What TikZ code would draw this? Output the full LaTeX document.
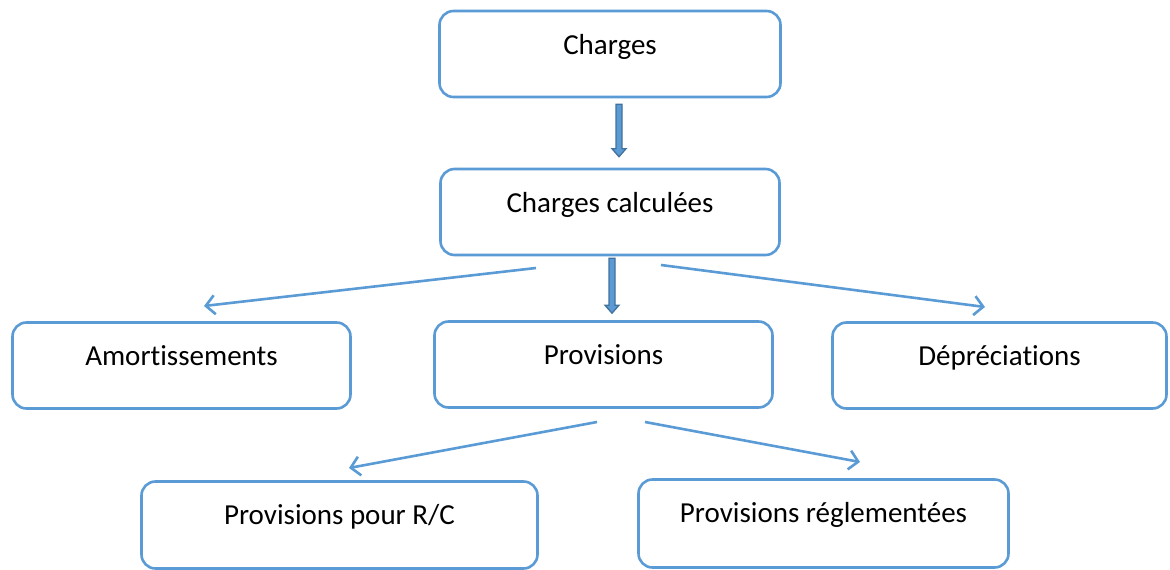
\documentclass[tikz,border=0pt]{standalone}
\usepackage{fontspec}
\setmainfont{Carlito}[Ligatures=NoCommon]
\usetikzlibrary{arrows.meta,calc}
\definecolor{boxblue}{HTML}{5B9BD5}
\definecolor{darkblue}{HTML}{41719C}
\tikzset{
  box/.style={draw=boxblue, line width=2.6pt, rounded corners=14pt, inner sep=0pt,
    text height=43pt, text depth=43pt, font=\fontsize{29}{34}\selectfont, text=black},
  link/.style={draw=boxblue, line width=2.6pt, -{Straight Barb[length=9pt,width=19pt,line width=2.6pt]}},
  blockarrow/.style={draw=darkblue, fill=boxblue, line width=1.3pt, line join=miter}
}
\begin{document}
\begin{tikzpicture}[x=1pt,y=-1pt]
\useasboundingbox (0,0) rectangle (1170,570);
\node[box, minimum width=341pt] (charges) at (610,54) {Charges};
\node[box, minimum width=339pt] (calc) at (610,212) {Charges calculées};
\node[box, minimum width=338pt] (amort) at (181.5,365.5) {Amortissements};
\node[box, minimum width=338pt] (prov) at (603.5,364.5) {Provisions};
\node[box, minimum width=334pt] (dep) at (999.5,365.5) {Dépréciations};
\node[box, minimum width=396pt, text depth=44pt] (rc) at (339.5,525) {Provisions pour R/C};
\node[box, minimum width=370pt, text depth=45pt] (regl) at (823.5,523.5) {Provisions réglementées};
% block arrows
\coordinate (b1s) at ($(charges.south)+(9,6)$);
\coordinate (b1e) at ($(calc.north)+(-0,-11)$);
\path let \p1=(b1s), \p2=(b1e) in coordinate (b1e) at (\x1,\y2);
\draw[blockarrow] ($(b1s)+(-3,0)$) -- ($(b1s)+(3,0)$) -- ($(b1e)+(3,-8)$) -- ($(b1e)+(7,-8)$)
  -- (b1e) -- ($(b1e)+(-7,-8)$) -- ($(b1e)+(-3,-8)$) -- cycle;
\coordinate (b2s) at ($(calc.south)+(2,2)$);
\coordinate (b2e) at ($(prov.north)+(0,-7)$);
\path let \p1=(b2s), \p2=(b2e) in coordinate (b2e) at (\x1,\y2);
\draw[blockarrow] ($(b2s)+(-3,0)$) -- ($(b2s)+(3,0)$) -- ($(b2e)+(3,-8)$) -- ($(b2e)+(7,-8)$)
  -- (b2e) -- ($(b2e)+(-7,-8)$) -- ($(b2e)+(-3,-8)$) -- cycle;
% connectors
\coordinate (l1s) at (536,268);
\coordinate (l1e) at (204,306);
\coordinate (l2s) at (661,265);
\coordinate (l2e) at (985,307);
\coordinate (l3s) at (597,422);
\coordinate (l3e) at (349,468);
\coordinate (l4s) at (645,422);
\coordinate (l4e) at (860,462);
\draw[link] (l1s) -- (l1e);
\draw[link] (l2s) -- (l2e);
\draw[link] (l3s) -- (l3e);
\draw[link] (l4s) -- (l4e);
\end{tikzpicture}
\end{document}
